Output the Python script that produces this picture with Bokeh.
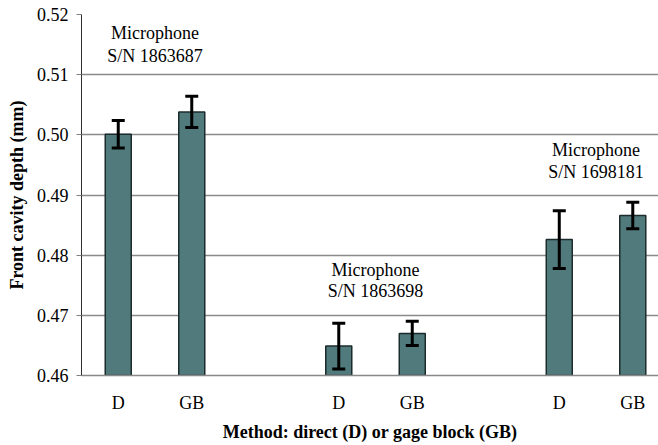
from bokeh.plotting import figure
from bokeh.models import (Range1d, FixedTicker, NumeralTickFormatter, ColumnDataSource,
                          Whisker, TeeHead)
from bokeh.embed import file_html
from bokeh.resources import INLINE

# Front cavity depth measurements (mm), two methods per microphone
microphones = ["S/N 1863687", "S/N 1863698", "S/N 1698181"]
methods = ["D", "GB"]
depth = [0.5001, 0.5038, 0.4649, 0.4670, 0.4826, 0.4866]
uncertainty = [0.0023, 0.0026, 0.0038, 0.0020, 0.0048, 0.0022]
y_ticks = [0.46, 0.47, 0.48, 0.49, 0.50, 0.51, 0.52]

# slot layout: two bars per microphone, one empty slot between groups
slots = []
labels = []
for g in range(len(microphones)):
    for m, name in enumerate(methods):
        slots.append(g * 3 + m)
        labels.append(name)
group_centers = [g * 3 + 0.5 for g in range(len(microphones))]

src = ColumnDataSource(dict(
    x=slots, top=depth,
    upper=[d + u for d, u in zip(depth, uncertainty)],
    lower=[d - u for d, u in zip(depth, uncertainty)],
))

SERIF = "Liberation Serif"

p = figure(width=658, height=445, output_backend="svg", toolbar_location=None,
           x_range=Range1d(-0.5, 7.35), y_range=Range1d(0.46, 0.52),
           min_border_left=81, min_border_top=14, min_border_bottom=70,
           min_border_right=0)
p.outline_line_color = None
p.background_fill_color = "white"
p.border_fill_color = "white"

p.vbar(x="x", top="top", bottom=0.46, width=0.354, source=src,
       fill_color="#517a7c", line_color="#1c2b2c", line_width=1.5)

whisk = Whisker(base="x", upper="upper", lower="lower", source=src,
                line_color="black", line_width=3, level="overlay",
                upper_head=TeeHead(size=13, line_width=3, line_color="black"),
                lower_head=TeeHead(size=13, line_width=3, line_color="black"))
p.add_layout(whisk)

# microphone captions above each pair of bars
caption_y = [(0.5169, 0.5131), (0.4775, 0.4740), (0.49744, 0.49378)]
for cx, (y1, y2), sn in zip(group_centers, caption_y, microphones):
    p.text(x=[cx], y=[y1], text=["Microphone"], text_align="center",
           text_baseline="middle", text_font={"value": SERIF},
           text_font_size="18px", text_color="black")
    p.text(x=[cx], y=[y2], text=[sn], text_align="center",
           text_baseline="middle", text_font={"value": SERIF},
           text_font_size="18px", text_color="black")

# y axis
p.yaxis.ticker = FixedTicker(ticks=y_ticks)
p.yaxis.formatter = NumeralTickFormatter(format="0.00")
p.yaxis.major_label_text_font = SERIF
p.yaxis.major_label_text_font_size = "18px"
p.yaxis.major_label_text_color = "black"
p.yaxis.major_label_standoff = 8
p.yaxis.major_tick_out = 5
p.yaxis.major_tick_in = 0
p.yaxis.minor_tick_line_color = None
p.yaxis.major_tick_line_color = "#808080"
p.yaxis.axis_line_color = "#303030"
p.yaxis.axis_label = "Front cavity depth (mm)"
p.yaxis.axis_label_text_font = SERIF
p.yaxis.axis_label_text_font_style = "bold"
p.yaxis.axis_label_text_font_size = "18px"
p.yaxis.axis_label_text_color = "black"
p.yaxis.axis_label_standoff = 7

# x axis
p.xaxis.ticker = FixedTicker(ticks=slots)
p.xaxis.major_label_overrides = {s: l for s, l in zip(slots, labels)}
p.xaxis.major_label_text_font = SERIF
p.xaxis.major_label_text_font_size = "18px"
p.xaxis.major_label_text_color = "black"
p.xaxis.major_label_standoff = 11
p.xaxis.major_tick_line_color = None
p.xaxis.minor_tick_line_color = None
p.xaxis.axis_line_color = "#888888"
p.xaxis.axis_line_width = 1.5
p.xaxis.axis_label = "Method: direct (D) or gage block (GB)"
p.xaxis.axis_label_text_font = SERIF
p.xaxis.axis_label_text_font_style = "bold"
p.xaxis.axis_label_text_font_size = "18px"
p.xaxis.axis_label_text_color = "black"
p.xaxis.axis_label_standoff = 6

p.xgrid.grid_line_color = None
p.ygrid.grid_line_color = "#8a8a8a"
p.ygrid.grid_line_width = 1.3

open("out.html", "w").write(file_html(p, INLINE))
